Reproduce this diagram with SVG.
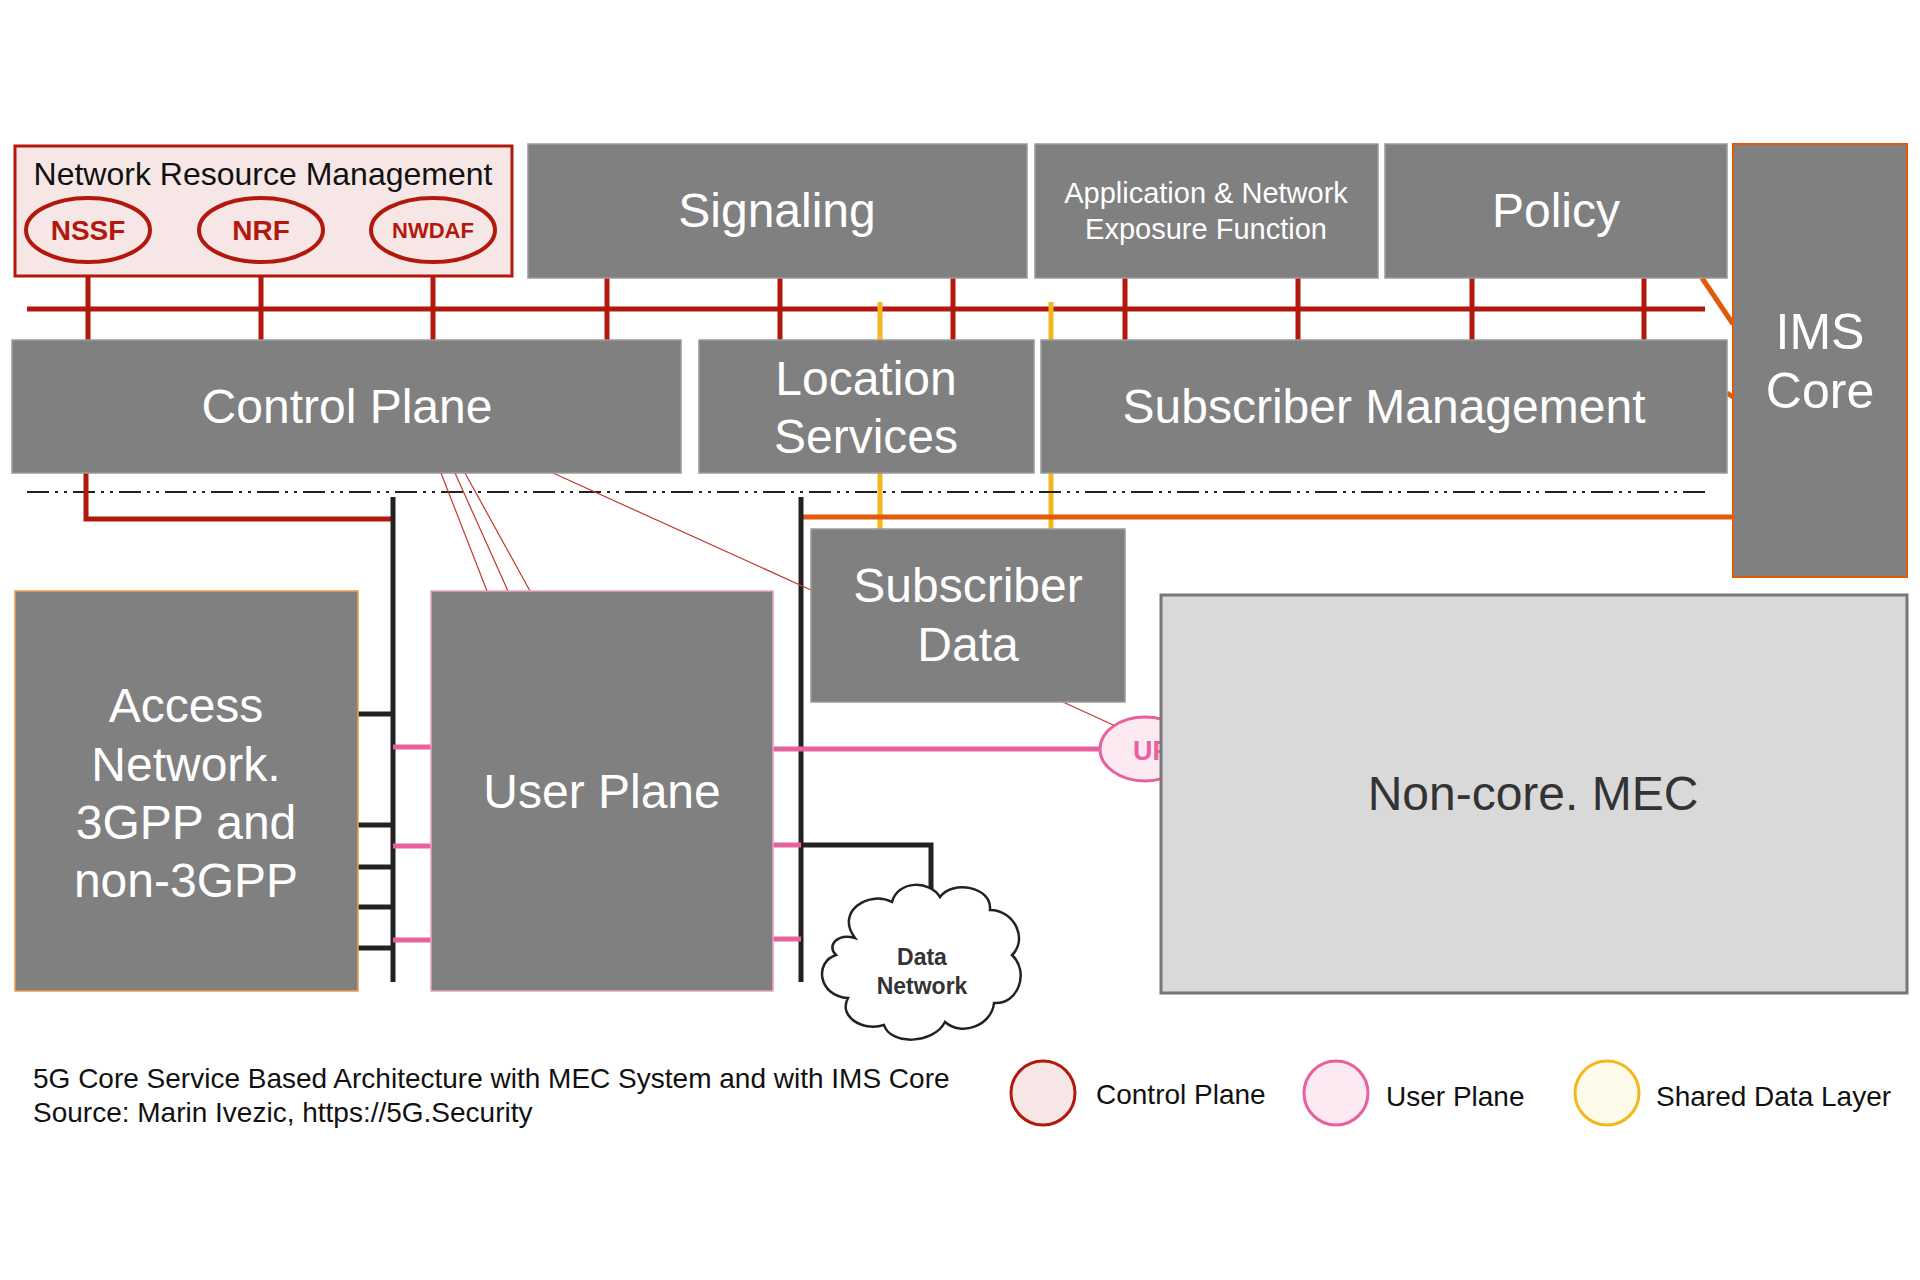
<svg xmlns="http://www.w3.org/2000/svg" width="1920" height="1280" viewBox="0 0 1920 1280">
<style>
text{font-family:"Liberation Sans",Arial,sans-serif;}
.box{fill:#808080;stroke:#9a9a9a;stroke-width:1.5}
.wt{fill:#fff;font-size:48px;text-anchor:middle}
.red{stroke:#b2190c;stroke-width:5;fill:none}
.thin{stroke:#c0392b;stroke-width:1.2;fill:none}
.blk{stroke:#222;stroke-width:5;fill:none}
.pink{stroke:#e8609e;stroke-width:5;fill:none}
.org{stroke:#e05a0a;stroke-width:5;fill:none}
.yel{stroke:#f2b81e;stroke-width:5;fill:none}
.el{fill:#f7e6e6;stroke:#b2190c;stroke-width:4}
.elt{fill:#b2190c;font-weight:bold;text-anchor:middle}
</style>
<rect width="1920" height="1280" fill="#fff"/>
<g id="connectors">
<line class="red" x1="27" y1="309" x2="1705" y2="309"/>
<path class="red" d="M88 262V340M261 262V340M433 262V340M607 278V340M780 278V340M953 278V340M1125 278V340M1298 278V340M1472 278V340M1644 278V340"/>
<path class="yel" d="M880 302V529M1051 302V529"/>
<line x1="27" y1="492" x2="1705" y2="492" stroke="#222" stroke-width="2" stroke-dasharray="22,6,3,6,3,6"/>
<path class="red" d="M86 473V519H393"/>
<path class="org" d="M801 517H1733M1702 278L1733 324M1727 393L1733 397"/>
<path class="blk" d="M393 497V982M801 497V982"/>
<path class="blk" d="M358 714H393M358 825H393M358 867H393M358 907H393M358 948H393"/>
<path class="pink" d="M393 747H431M393 846H431M393 940H431M773 845H801M773 939H801M773 749H1110"/>
<path class="blk" d="M801 845H931V915"/>
<path class="thin" d="M441 473L487 591M455 473L508 591M465 473L530 591M553 473L811 590M1063 702L1122 729"/>
</g>
<g id="nrm"><rect x="15" y="146" width="497" height="130" fill="#f7e6e6" stroke="#b2190c" stroke-width="3"/>
<text x="263" y="185" style="font-size:32px" text-anchor="middle" fill="#111">Network Resource Management</text>
<ellipse class="el" cx="88" cy="230" rx="62" ry="32"/><text class="elt" x="88" y="240" font-size="28">NSSF</text>
<ellipse class="el" cx="261" cy="230" rx="62" ry="32"/><text class="elt" x="261" y="240" font-size="28">NRF</text>
<ellipse class="el" cx="433" cy="230" rx="62" ry="32"/><text class="elt" x="433" y="238" font-size="22">NWDAF</text></g>
<g id="signaling"><rect class="box" x="528" y="144" width="499" height="134"/><text class="wt" x="777" y="227">Signaling</text></g>
<g id="anef"><rect class="box" x="1035" y="144" width="343" height="134"/><text class="wt" x="1206" y="203" style="font-size:29px">Application &amp; Network</text><text class="wt" x="1206" y="239" style="font-size:29px">Exposure Function</text></g>
<g id="policy"><rect class="box" x="1385" y="144" width="342" height="134"/><text class="wt" x="1556" y="227">Policy</text></g>
<g id="ims"><rect x="1733" y="144" width="174" height="433" fill="#808080" stroke="#e05a0a" stroke-width="2"/><text class="wt" x="1820" y="349" style="font-size:50px">IMS</text><text class="wt" x="1820" y="408" style="font-size:50px">Core</text></g>
<g id="control-plane"><rect class="box" x="12" y="340" width="669" height="133"/><text class="wt" x="347" y="423">Control Plane</text></g>
<g id="location"><rect class="box" x="699" y="340" width="335" height="133" stroke="#d07060"/><text class="wt" x="866" y="395">Location</text><text class="wt" x="866" y="453">Services</text></g>
<g id="sub-mgmt"><rect class="box" x="1041" y="340" width="686" height="133"/><text class="wt" x="1384" y="423">Subscriber Management</text></g>
<g id="sub-data"><rect class="box" x="811" y="529" width="314" height="173" stroke="#c8a070"/><text class="wt" x="968" y="602">Subscriber</text><text class="wt" x="968" y="661">Data</text></g>
<g id="access"><rect x="15" y="591" width="343" height="400" fill="#808080" stroke="#e8a040" stroke-width="1.5"/>
<text class="wt" x="186" y="722">Access</text><text class="wt" x="186" y="781">Network.</text><text class="wt" x="186" y="839">3GPP and</text><text class="wt" x="186" y="897">non-3GPP</text></g>
<g id="user-plane"><rect x="431" y="591" width="342" height="400" fill="#808080" stroke="#e8a0c0" stroke-width="1.5"/><text class="wt" x="602" y="808">User Plane</text></g>
<g id="up"><ellipse cx="1145" cy="749" rx="45" ry="32" fill="#fde9f2" stroke="#e8609e" stroke-width="3"/><text x="1133" y="760" font-size="27" font-weight="bold" fill="#e8609e">UP</text></g>
<g id="mec"><rect x="1161" y="595" width="746" height="398" fill="#d9d9d9" stroke="#777" stroke-width="3"/><text x="1533" y="810" font-size="48" text-anchor="middle" fill="#333">Non-core. MEC</text></g>
<g id="data-network"><path d="M855 938C835 912 868 890 892 902C898 880 930 880 940 897C952 880 992 886 990 910C1015 910 1028 940 1012 955C1030 972 1018 1005 994 1003C992 1025 962 1037 945 1022C933 1045 890 1045 884 1025C862 1032 838 1016 848 998C818 996 814 962 836 955C826 945 838 933 855 938Z" fill="#fff" stroke="#222" stroke-width="2.5"/>
<text x="922" y="965" font-size="23" font-weight="bold" text-anchor="middle" fill="#333">Data</text><text x="922" y="994" font-size="23" font-weight="bold" text-anchor="middle" fill="#333">Network</text></g>
<g id="caption" font-size="28" fill="#111"><text x="33" y="1088">5G Core Service Based Architecture with MEC System and with IMS Core</text><text x="33" y="1122">Source: Marin Ivezic, https://5G.Security</text></g>
<g id="legend" font-size="28" fill="#111">
<circle cx="1043" cy="1093" r="32" fill="#f7e6e6" stroke="#b2190c" stroke-width="3"/><text x="1096" y="1104">Control Plane</text>
<circle cx="1336" cy="1093" r="32" fill="#fde9f2" stroke="#e8609e" stroke-width="3"/><text x="1386" y="1106">User Plane</text>
<circle cx="1607" cy="1093" r="32" fill="#fffbea" stroke="#f2b81e" stroke-width="3"/><text x="1656" y="1106">Shared Data Layer</text></g>
</svg>
